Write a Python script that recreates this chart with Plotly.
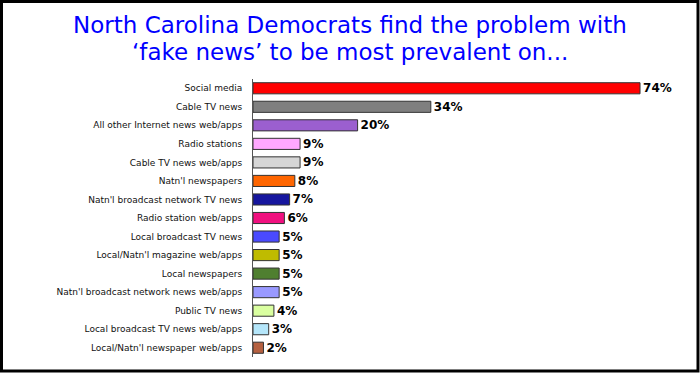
import plotly.graph_objects as go

categories = [
    "Social media", "Cable TV news", "All other Internet news web/apps",
    "Radio stations", "Cable TV news web/apps", "Natn'l newspapers",
    "Natn'l broadcast network TV news", "Radio station web/apps",
    "Local broadcast TV news", "Local/Natn'l magazine web/apps",
    "Local newspapers", "Natn'l broadcast network news web/apps",
    "Public TV news", "Local broadcast TV news web/apps",
    "Local/Natn'l newspaper web/apps",
]
values = [74, 34, 20, 9, 9, 8, 7, 6, 5, 5, 5, 5, 4, 3, 2]
colors = [
    "#FF0000", "#7F7F7F", "#9B5FCF", "#FFA8FF", "#D6D6D6", "#FF6600",
    "#16169E", "#F0107F", "#4A4AFF", "#BFBB00", "#4F7F30", "#9999FF",
    "#DAFFA0", "#B5E6FA", "#B56040",
]
title_lines = ["North Carolina Democrats find the problem with",
               "\u2018fake news\u2019 to be most prevalent on..."]

W, H = 700, 373
L, R, T, B = 253, 20, 79, 16
pw, ph = W - L - R, H - T - B

fig = go.Figure(go.Bar(
    y=categories, x=values, orientation="h",
    marker=dict(color=colors, line=dict(color="#333333", width=1)),
    width=0.6,
    text=[f"{v}%" for v in values], textposition="outside",
    constraintext="none",
    textfont=dict(family="DejaVu Sans", size=12, color="black", weight="bold"),
    cliponaxis=False,
))

def px_x(p):
    return (p - L) / pw

def px_y(p):
    return (H - B - p) / ph

title_font = dict(family="DejaVu Sans", size=23, color="#0000FF")

fig.update_layout(
    width=W, height=H,
    margin=dict(l=L, r=R, t=T, b=B),
    paper_bgcolor="white", plot_bgcolor="white",
    showlegend=False,
    xaxis=dict(range=[0, pw / 5.23], visible=False, fixedrange=True),
    yaxis=dict(autorange="reversed", showline=True, linecolor="#555555", linewidth=1,
               ticks="", ticklabelstandoff=8, fixedrange=True,
               tickfont=dict(family="DejaVu Sans", size=9, color="#111111")),
    annotations=[
        dict(text=title_lines[0], x=px_x(350), y=px_y(25), xref="paper", yref="paper",
             showarrow=False, xanchor="center", yanchor="middle",
             font=title_font),
        dict(text=title_lines[1], x=px_x(350), y=px_y(52.5), xref="paper", yref="paper",
             showarrow=False, xanchor="center", yanchor="middle",
             font=title_font),
    ],
    shapes=[
        dict(type="rect", xref="paper", yref="paper",
             x0=px_x(1.5), x1=px_x(698), y0=px_y(1.5), y1=px_y(371),
             line=dict(color="black", width=3), layer="above"),
    ],
)

fig.write_html("out.html", config={"displayModeBar": False},
               post_script="document.body.style.margin='0';document.body.style.padding='0';")
